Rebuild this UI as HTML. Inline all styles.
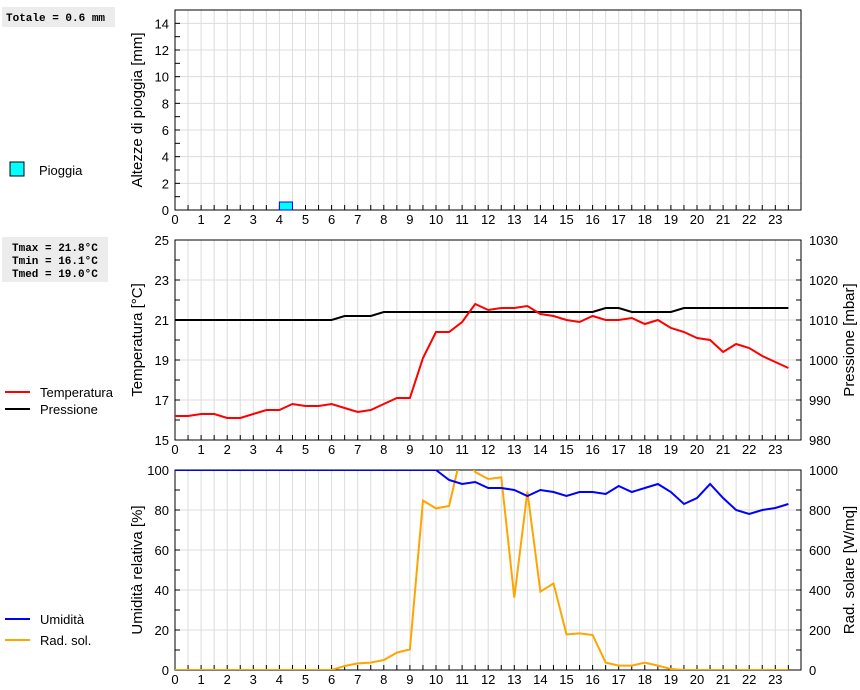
<!DOCTYPE html>
<html><head><meta charset="utf-8"><style>
body{margin:0;background:#fff;}
svg{display:block;font-family:"Liberation Sans",sans-serif;}
.mono{font-family:"Liberation Mono",monospace;font-weight:bold;font-size:11px;}
</style></head><body>
<svg id="c" width="860" height="690" viewBox="0 0 860 690" xmlns="http://www.w3.org/2000/svg">
<rect x="2" y="7" width="113" height="20" fill="#ececec"/>
<text x="6" y="21" class="mono">Totale = 0.6 mm</text>
<rect x="2" y="237" width="106" height="45" fill="#ececec"/>
<text x="12" y="251" class="mono">Tmax = 21.8°C</text>
<text x="12" y="264" class="mono">Tmin = 16.1°C</text>
<text x="12" y="277" class="mono">Tmed = 19.0°C</text>
<rect x="10" y="162" width="14" height="14" fill="#00ffff" stroke="#000"/>
<text x="39" y="175" font-size="13">Pioggia</text>
<line x1="5" y1="392" x2="30" y2="392" stroke="#f00" stroke-width="2"/>
<text x="40" y="397" font-size="13">Temperatura</text>
<line x1="5" y1="409" x2="30" y2="409" stroke="#000" stroke-width="2"/>
<text x="40" y="414" font-size="13">Pressione</text>
<line x1="5" y1="619" x2="30" y2="619" stroke="#00f" stroke-width="2"/>
<text x="40" y="624" font-size="13">Umidità</text>
<line x1="5" y1="640" x2="30" y2="640" stroke="#ffa500" stroke-width="2"/>
<text x="40" y="645" font-size="13">Rad. sol.</text>
</svg>
<script>
const hours=[0,0.5,1,1.5,2,2.5,3,3.5,4,4.5,5,5.5,6,6.5,7,7.5,8,8.5,9,9.5,10,10.5,11,11.5,12,12.5,13,13.5,14,14.5,15,15.5,16,16.5,17,17.5,18,18.5,19,19.5,20,20.5,21,21.5,22,22.5,23,23.5];
const temperature=[16.2,16.2,16.3,16.3,16.1,16.1,16.3,16.5,16.5,16.8,16.7,16.7,16.8,16.6,16.4,16.5,16.8,17.1,17.1,19.1,20.4,20.4,20.9,21.8,21.5,21.6,21.6,21.7,21.3,21.2,21.0,20.9,21.2,21.0,21.0,21.1,20.8,21.0,20.6,20.4,20.1,20.0,19.4,19.8,19.6,19.2,18.9,18.6];
const pressure=[1010,1010,1010,1010,1010,1010,1010,1010,1010,1010,1010,1010,1010,1011,1011,1011,1012,1012,1012,1012,1012,1012,1012,1012,1012,1012,1012,1012,1012,1012,1012,1012,1012,1013,1013,1012,1012,1012,1012,1013,1013,1013,1013,1013,1013,1013,1013,1013];
const humidity=[100,100,100,100,100,100,100,100,100,100,100,100,100,100,100,100,100,100,100,100,100,95,93,94,91,91,90,87,90,89,87,89,89,88,92,89,91,93,89,83,86,93,86,80,78,80,81,83];
const radiation=[0,0,0,0,0,0,0,0,0,0,0,0,0,20,33,37,50,87,103,847,808,820,1100,990,955,963,362,892,392,433,178,183,175,37,22,22,37,22,5,0,0,0,0,0,0,0,0,0];
const rainHours=[4];
const rainValues=[0.6];
const xTicks=[0,1,2,3,4,5,6,7,8,9,10,11,12,13,14,15,16,17,18,19,20,21,22,23];

const svg=document.getElementById('c');
const NS='http://www.w3.org/2000/svg';
const X0=175,X1=801,PX=26.1;
const xs=h=>X0+h*PX;
function mk(tag,attrs,parent){const e=document.createElementNS(NS,tag);for(const k in attrs)e.setAttribute(k,attrs[k]);(parent||svg).appendChild(e);return e;}
const panels=[
 {top:10,bot:210,min:0,max:15,major:2,minor:1,title:'Altezze di pioggia [mm]',name:'rain'},
 {top:240,bot:440,min:15,max:25,major:2,minor:1,title:'Temperatura [°C]',name:'temp',r:{min:980,max:1030,step:10,title:'Pressione [mbar]'}},
 {top:470,bot:670,min:0,max:100,major:20,minor:10,title:'Umidità relativa [%]',name:'hum',r:{min:0,max:1000,step:200,title:'Rad. solare [W/mq]'}}
];
panels.forEach(p=>{
 p.y=v=>p.bot-(v-p.min)/(p.max-p.min)*(p.bot-p.top);
 const g=mk('g',{});
 
 
 for(let h=0.5;h<24;h+=0.5){const l=mk('line',{x1:xs(h),x2:xs(h),y1:p.top,y2:p.bot,stroke:'#dcdcdc'},g);
  
  mk('line',{x1:xs(h),x2:xs(h),y1:p.bot,y2:p.bot-5,stroke:'#000'},g);}
 for(let v=p.min;v<=p.max+1e-9;v+=p.minor){
  const y=p.y(v);const isMaj=Math.abs(((v-p.min)%p.major))<1e-9;
  if(isMaj&&v>p.min&&v<p.max){const l=mk('line',{x1:X0,x2:X1,y1:y,y2:y,stroke:'#dcdcdc'},g);
   }
  mk('line',{x1:X0,x2:X0+5,y1:y,y2:y,stroke:'#000'},g);
  if(isMaj&&!(p.name==='rain'&&v>14)){const t=mk('text',{x:X0-6,y:y+5,'text-anchor':'end','font-size':13},g);t.textContent=v;
   }
 }
 if(p.name==='rain'){ // rain has labels every 2 up to 14
 }
 xTicks.forEach(h=>{const t=mk('text',{x:xs(h),y:p.bot+14,'text-anchor':'middle','font-size':13},g);t.textContent=h;
  });
 const yt=mk('text',{x:0,y:0,'text-anchor':'middle','font-size':15,transform:`translate(142,${(p.top+p.bot)/2}) rotate(-90)`},g);
 yt.textContent=p.title;
 
 
 if(p.r){const r=p.r;p.ry=v=>p.bot-(v-r.min)/(r.max-r.min)*(p.bot-p.top);
  for(let v=r.min;v<=r.max;v+=r.step/2){const y=p.ry(v);mk('line',{x1:X1,x2:X1-5,y1:y,y2:y,stroke:'#000'},g);
   if((v-r.min)%r.step===0){const t=mk('text',{x:X1+8,y:y+5,'font-size':13},g);t.textContent=v;
    }}
  const rt=mk('text',{x:0,y:0,'text-anchor':'middle','font-size':15,transform:`translate(854,${(p.top+p.bot)/2}) rotate(-90)`},g);
  rt.textContent=r.title;
  
  }
 const fr=mk('rect',{x:X0,y:p.top,width:X1-X0,height:p.bot-p.top,fill:'none',stroke:'#000'},g);
 
 const cp=mk('clipPath',{id:'clip-'+p.name});mk('rect',{x:X0,y:p.top,width:X1-X0,height:p.bot-p.top},cp);
});
function line(vals,yf,color,name,clip){const pts=vals.map((v,i)=>xs(hours[i]).toFixed(1)+','+yf(v).toFixed(1)).join(' ');
 const e=mk('polyline',{points:pts,fill:'none',stroke:color,'stroke-width':2,'clip-path':'url(#clip-'+clip+')'});
 }
const P=panels;
rainHours.forEach((h,i)=>{const b=mk('rect',{x:xs(h),y:P[0].y(rainValues[i]),width:PX/2,height:P[0].bot-P[0].y(rainValues[i]),fill:'#00ffff',stroke:'#0000ff'});
 });
line(pressure,P[1].ry,'#000','pressure-line','temp');
line(temperature,P[1].y,'#f00','temperature-line','temp');
line(radiation,P[2].ry,'#ffa500','radiation-line','hum');
line(humidity,P[2].y,'#0000ff','humidity-line','hum');
</script>
</body></html>
